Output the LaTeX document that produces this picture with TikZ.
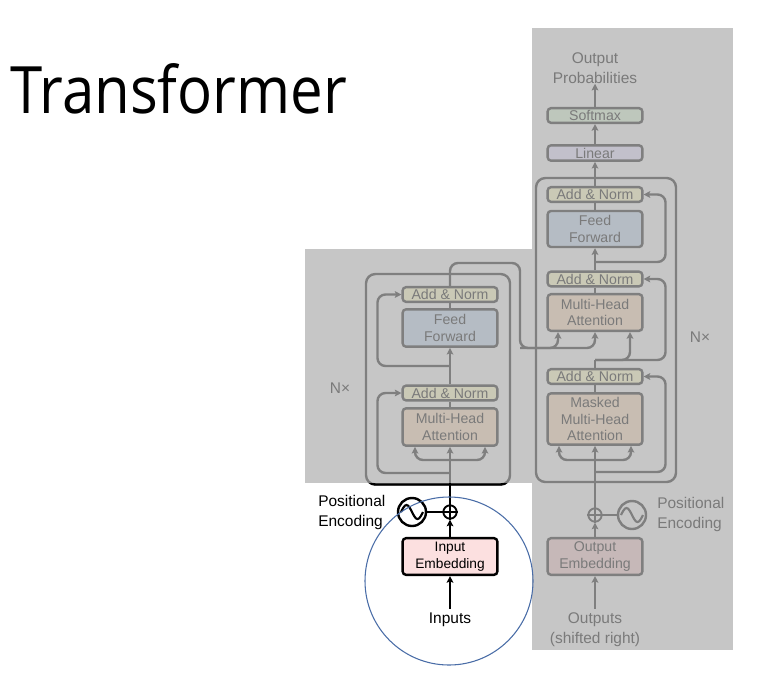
\documentclass[tikz,border=0pt]{standalone}
\usepackage{fontspec}
\setmainfont{Liberation Sans}
\newfontfamily\titlefont{Open Sans}
\usepackage{tikz}
\usetikzlibrary{arrows.meta,calc}
\definecolor{bggray}{HTML}{C6C6C6}
\definecolor{lngray}{HTML}{7F7F7F}
\definecolor{txgray}{HTML}{7A7A7A}
\definecolor{anfill}{HTML}{CAC9B6}
\definecolor{fffill}{HTML}{B5BCC4}
\definecolor{mhafill}{HTML}{C8BDB2}
\definecolor{smfill}{HTML}{BEC7BC}
\definecolor{linfill}{HTML}{C2C0CB}
\definecolor{oefill}{HTML}{C6B8B8}
\definecolor{iefill}{HTML}{FCE0E0}
\definecolor{circblue}{HTML}{4A6DA7}
\tikzset{
  block/.style={draw=lngray,line width=1.8pt,rounded corners=2.5pt,minimum width=71pt,inner sep=0pt,align=center,text=txgray,font=\fontsize{10.6}{12.5}\selectfont},
  addnorm/.style={block,fill=anfill,minimum height=11pt},
  ffbox/.style={block,fill=fffill,minimum height=28pt},
  attbox/.style={block,fill=mhafill,minimum height=28pt},
  gline/.style={draw=lngray,line width=1.8pt},
  garrow/.style={gline,-{Stealth[length=5pt,width=5pt,inset=1pt]}},
  bline/.style={draw=black,line width=2pt},
  barrow/.style={bline,-{Stealth[length=5pt,width=5pt,inset=1pt]}},
  glabel/.style={text=txgray,align=center,inner sep=0pt,font=\fontsize{11.6}{15}\selectfont},
  blabel/.style={text=black,align=center,inner sep=0pt,font=\fontsize{11.6}{15}\selectfont},
  addsym/.style={circle,draw,line width=1.4pt,minimum size=10pt,inner sep=0pt},
  sinesym/.style={circle,draw,line width=1.8pt,minimum size=21pt,inner sep=0pt}
}

\begin{document}
\begin{tikzpicture}[x=0.75pt,y=-0.75pt]
  \path[use as bounding box] (0,0) rectangle (777,697);
  \node[anchor=base west,inner sep=0pt,font=\titlefont\fontsize{49}{58}\selectfont] (title) at (10,113) {\scalebox{0.89}[1]{Transformer}};

  % shaded backgrounds
  \fill[bggray] (305,249) rectangle (532,483);
  \fill[bggray] (532,28) rectangle (733,650);
  \draw[gline,rounded corners=7pt] (366,274) rectangle (510,484.5);
  \begin{scope}
    \clip (300,483.5) rectangle (540,500);
    \draw[bline,line width=1.8pt,rounded corners=7pt] (366,274) rectangle (510,484.5);
  \end{scope}
  \draw[gline,rounded corners=7pt] (536,178) rectangle (676,482);

  % encoder
  \node[addnorm] (an2) at (450,294.5) {Add \& Norm};
  \node[ffbox] (ff) at (450,328) {Feed\\Forward};
  \node[addnorm] (an1) at (450,393) {Add \& Norm};
  \node[attbox] (mha) at (450,427) {Multi-Head\\Attention};
  \node[glabel] (encn) at (340,388) {N×};
  \node[block,draw=black,fill=iefill,text=black,minimum height=27.5pt,font=\fontsize{10.3}{12.5}\selectfont] (inemb) at (450,556.5) {Input\\Embedding};
  \node[blabel] (inputs) at (450,620) {Inputs};
  \node[addsym] (plus) at (450,512) {};
  \node[sinesym] (sine) at (412,512) {};
  \node[blabel,anchor=west,align=left] (encpos) at (318,512) {Positional\\Encoding};

  \coordinate (encin) at (450,483);
  \coordinate (encbr) at (450,460);
  \coordinate (encres1) at (450,473);
  \coordinate (encres2) at (450,366);
  \coordinate (encl1) at ($(an1.west)+(-24,0)$);
  \coordinate (encl2) at ($(an2.west)+(-24,0)$);
  \coordinate (mhaK) at ($(mha.south)+(-35,0)$);
  \coordinate (mhaQ) at ($(mha.south)+(35,0)$);
  \coordinate (encr) at (520,263);
  \coordinate (encd) at (520,348);

  \draw[barrow] (inputs.north) ++(0,-4) -- (inemb.south);
  \draw[barrow] (inemb.north) -- (plus.south);
  \draw[bline] (plus) -- (encin);
  \draw[bline] (sine.east) -- (plus.west);
  \draw[line width=1.4pt] (plus.north) -- (plus.south) (plus.west) -- (plus.east);
  \draw[line width=1.6pt] ($(sine.center)+(-11,0)$) sin ++(5.5,-7) cos ++(5.5,7) sin ++(5.5,7) cos ++(5.5,-7);
  \draw[garrow] (encin) -- (mha.south);
  \draw[garrow,rounded corners=6pt] (encbr) -| (mhaK);
  \draw[garrow,rounded corners=6pt] (encbr) -| (mhaQ);
  \draw[garrow,rounded corners=6pt] (encres1) -| (encl1) -- (an1.west);
  \draw[gline] (mha.north) -- (an1.south);
  \draw[garrow] (an1.north) -- (ff.south);
  \draw[garrow,rounded corners=6pt] (encres2) -| (encl2) -- (an2.west);
  \draw[gline] (ff.north) -- (an2.south);

  % decoder
  \node[glabel] (outprob) at (595,68) {Output\\Probabilities};
  \node[block,fill=smfill,minimum height=11pt] (softmax) at (595,115.5) {Softmax};
  \node[block,fill=linfill,minimum height=11.5pt] (linear) at (595,153) {Linear};
  \node[addnorm] (dan3) at (595,194.5) {Add \& Norm};
  \node[ffbox,minimum height=27pt] (dff) at (595,229) {Feed\\Forward};
  \node[addnorm] (dan2) at (595,279) {Add \& Norm};
  \node[attbox,minimum height=27.5pt] (dmha) at (595,312.5) {Multi-Head\\Attention};
  \node[addnorm] (dan1) at (595,376.5) {Add \& Norm};
  \node[attbox,minimum height=38.5pt] (dmmha) at (595,419) {Masked\\Multi-Head\\Attention};
  \node[glabel] (decn) at (700,337) {N×};
  \node[block,fill=oefill,minimum height=27.5pt] (outemb) at (595,556.5) {Output\\Embedding};
  \node[glabel] (outputs) at (595,630) {Outputs\\(shifted right)};
  \node[addsym,draw=lngray] (dplus) at (595,515) {};
  \node[sinesym,draw=lngray] (dsine) at (632,515) {};
  \node[glabel,anchor=west,align=left] (decpos) at (657,514) {Positional\\Encoding};

  \coordinate (decbr) at (595,460);
  \coordinate (decres1) at (595,472);
  \coordinate (decsplit) at (595,360);
  \coordinate (decres3) at (595,262);
  \coordinate (decr1) at ($(dan1.east)+(22,0)$);
  \coordinate (decr2) at ($(dan2.east)+(22,0)$);
  \coordinate (decr3) at ($(dan3.east)+(22,0)$);
  \coordinate (mmhaK) at ($(dmmha.south)+(-36,0)$);
  \coordinate (mmhaQ) at ($(dmmha.south)+(36,0)$);
  \coordinate (dmhaK) at ($(dmha.south)+(-37,0)$);
  \coordinate (dmhaV) at (dmha.south);
  \coordinate (dmhaQ) at ($(dmha.south)+(35,0)$);

  \draw[garrow] (outputs.north) ++(0,-4) -- (outemb.south);
  \draw[garrow] (outemb.north) -- (dplus.south);
  \draw[gline] (dplus.east) -- (dsine.west);
  \draw[gline,line width=1.4pt] (dplus.north) -- (dplus.south) (dplus.west) -- (dplus.east);
  \draw[gline,line width=1.6pt] ($(dsine.center)+(-11,0)$) sin ++(5.5,-7) cos ++(5.5,7) sin ++(5.5,7) cos ++(5.5,-7);
  \draw[garrow] (dplus.north) -- (dmmha.south);
  \draw[garrow,rounded corners=6pt] (decbr) -| (mmhaK);
  \draw[garrow,rounded corners=6pt] (decbr) -| (mmhaQ);
  \draw[garrow,rounded corners=6pt] (decres1) -| (decr1) -- (dan1.east);
  \draw[gline] (dmmha.north) -- (dan1.south);
  \draw[gline] (dan1.north) -- (decsplit);
  \draw[garrow,rounded corners=6pt] (decsplit) -| (dmhaQ);
  \draw[garrow,rounded corners=6pt] (decsplit) -| (decr2) -- (dan2.east);
  \draw[gline] (dmha.north) -- (dan2.south);
  \draw[garrow] (dan2.north) -- (dff.south);
  \draw[garrow,rounded corners=6pt] (decres3) -| (decr3) -- (dan3.east);
  \draw[gline] (dff.north) -- (dan3.south);
  \draw[garrow] (dan3.north) -- (linear.south);
  \draw[garrow] (linear.north) -- (softmax.south);
  \draw[garrow] (softmax.north) -- (outprob.south);

  % encoder output into decoder attention
  \draw[garrow,rounded corners=6pt] (an2.north) |- (encr) -- (encd) -| (dmhaK);
  \draw[garrow,rounded corners=6pt] (encd) -| (dmhaV);

  % highlight
  \draw[circblue,line width=0.8pt] (449,581) circle (84);
\end{tikzpicture}
\end{document}
